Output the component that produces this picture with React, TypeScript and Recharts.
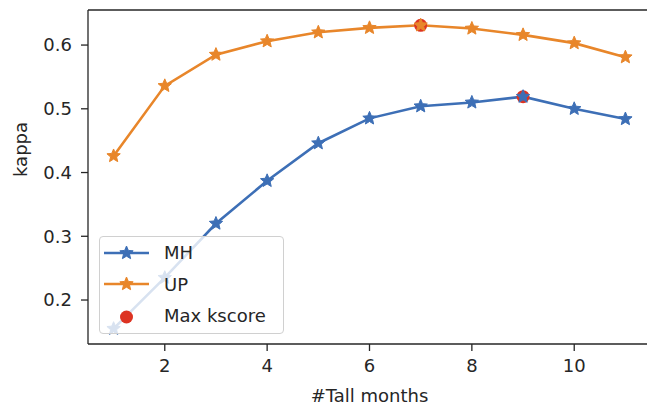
import React from "react";
import { ComposedChart, Line, Scatter, XAxis, YAxis, Legend, ReferenceLine } from "recharts";

const months = [1, 2, 3, 4, 5, 6, 7, 8, 9, 10, 11];
const mhKappa = [0.155, 0.235, 0.32, 0.387, 0.446, 0.485, 0.504, 0.51, 0.519, 0.5, 0.484];
const upKappa = [0.426, 0.536, 0.585, 0.606, 0.62, 0.627, 0.631, 0.626, 0.616, 0.603, 0.581];
const xTicks = [2, 4, 6, 8, 10];
const yTicks = [0.2, 0.3, 0.4, 0.5, 0.6];

const X_DOMAIN: [number, number] = [0.5, 11.5];
const Y_DOMAIN: [number, number] = [0.131, 0.655];

const BLUE = "#3d6fb6";
const ORANGE = "#e8862a";
const RED = "#dd3322";
const INK = "#262626";
const FONT = "DejaVu Sans";

const data = months.map((m, i) => ({ x: m, mh: mhKappa[i], up: upKappa[i] }));

const argMax = (arr: number[]) => arr.indexOf(Math.max(...arr));
const maxPoints = [mhKappa, upKappa].map((s) => ({ x: months[argMax(s)], y: s[argMax(s)] }));

function starPath(cx: number, cy: number, r: number) {
  const inner = r * 0.45;
  let d = "";
  for (let i = 0; i < 10; i++) {
    const rad = i % 2 === 0 ? r : inner;
    const a = -Math.PI / 2 + (i * Math.PI) / 5;
    d += (i === 0 ? "M" : "L") + (cx + rad * Math.cos(a)).toFixed(2) + "," + (cy + rad * Math.sin(a)).toFixed(2);
  }
  return d + "Z";
}

const makeStar = (color: string) => (props: any) => {
  const { cx, cy, index } = props;
  if (cx == null || cy == null) return <g key={index} />;
  return <path key={index} d={starPath(cx, cy, 7)} fill={color} stroke={color} strokeWidth={1} />;
};

const RedDot = (props: any) => <circle cx={props.cx} cy={props.cy} r={6.5} fill={RED} />;

function LegendBox() {
  const rows = [
    { label: "MH", color: BLUE, kind: "line" },
    { label: "UP", color: ORANGE, kind: "line" },
    { label: "Max kscore", color: RED, kind: "dot" },
  ];
  return (
    <div
      style={{
        width: 185,
        height: 98,
        boxSizing: "border-box",
        border: "1px solid #d0d0d0",
        borderRadius: 4,
        background: "rgba(255,255,255,0.8)",
        fontFamily: FONT,
        fontSize: 18,
        color: INK,
      }}
    >
      {rows.map((r) => (
        <div key={r.label} style={{ display: "flex", alignItems: "center", height: 31.5 }}>
          <svg width={64} height={20} style={{ flex: "none" }}>
            {r.kind === "line" ? (
              <>
                <line x1={4} y1={10} x2={49} y2={10} stroke={r.color} strokeWidth={2.6} />
                <path d={starPath(26.5, 10, 7)} fill={r.color} stroke={r.color} />
              </>
            ) : (
              <circle cx={26.5} cy={11} r={6.5} fill={r.color} />
            )}
          </svg>
          <span>{r.label}</span>
        </div>
      ))}
    </div>
  );
}

export default function App() {
  return (
    <div style={{ position: "absolute", left: 0, top: 0, width: 647, height: 406, background: "#fff", overflow: "hidden" }}>
      <ComposedChart width={651} height={406} data={data} margin={{ top: 10, right: 0, left: 0, bottom: 0 }}>
        <XAxis
          dataKey="x"
          type="number"
          domain={X_DOMAIN}
          ticks={xTicks}
          height={62}
          stroke={INK}
          strokeWidth={1.3}
          tickSize={7}
          tickMargin={8}
          tick={{ fontFamily: FONT, fontSize: 18, fill: INK }}
          label={{ value: "#Tall months", position: "insideBottom", offset: 4, fontFamily: FONT, fontSize: 18, fill: INK }}
        />
        <YAxis
          type="number"
          domain={Y_DOMAIN}
          ticks={yTicks}
          width={88}
          stroke={INK}
          strokeWidth={1.3}
          tickSize={7}
          tickMargin={9}
          tickFormatter={(v: number) => v.toFixed(1)}
          tick={{ fontFamily: FONT, fontSize: 18, fill: INK }}
          label={{ value: "kappa", angle: -90, position: "insideLeft", offset: 21, fontFamily: FONT, fontSize: 18, fill: INK }}
        />
        <ReferenceLine y={Y_DOMAIN[1]} stroke={INK} strokeWidth={1.3} />
        <Legend
          layout="vertical"
          align="center"
          verticalAlign="middle"
          wrapperStyle={{ left: 99, top: 236, width: 185 }}
          content={() => <LegendBox />}
        />
        <Scatter data={maxPoints} dataKey="y" fill={RED} shape={RedDot} isAnimationActive={false} />
        <Line dataKey="mh" stroke={BLUE} strokeWidth={2.6} dot={makeStar(BLUE)} activeDot={false} isAnimationActive={false} />
        <Line dataKey="up" stroke={ORANGE} strokeWidth={2.6} dot={makeStar(ORANGE)} activeDot={false} isAnimationActive={false} />
      </ComposedChart>
    </div>
  );
}
